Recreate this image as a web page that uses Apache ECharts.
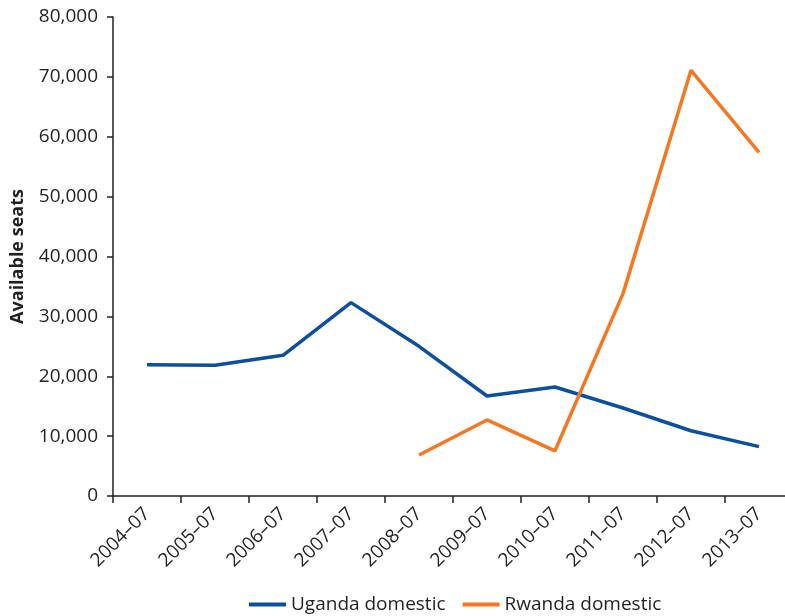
<!DOCTYPE html>
<html>
<head>
<meta charset="utf-8">
<script src="https://cdn.jsdelivr.net/npm/echarts@6/dist/echarts.min.js"></script>
<style>
  html, body { margin: 0; padding: 0; background: #fff; }
  #chart { width: 785px; height: 616px; }
</style>
</head>
<body>
<div id="chart"></div>
<script>
// periods on the x axis
const periods = ['2004\u201307', '2005\u201307', '2006\u201307', '2007\u201307', '2008\u201307',
  '2009\u201307', '2010\u201307', '2011\u201307', '2012\u201307', '2013\u201307']
// available seats per period
const ugandaSeats = [21900, 21850, 23500, 32300, 25000, 16700, 18200, 14700, 10900, 8250]
const rwandaSeats = [null, null, null, null, 6850, 12700, 7550, 33800, 71100, 57400]
const yTicks = { min: 0, max: 80000, interval: 10000 }

const textColor = '#231f20'
const font = 'Open Sans'

let chart = echarts.init(document.getElementById('chart'))
chart.setOption({
  animation: false,
  textStyle: { fontFamily: font },
  grid: {
    left: 113, right: -8, top: 17, bottom: 120,
    containLabel: false,
    outerBoundsMode: 'none'
  },
  legend: {
    left: 244,
    top: 590,
    icon: 'rect',
    itemWidth: 37,
    itemHeight: 4,
    itemGap: 17,
    textStyle: { fontSize: 19, color: textColor, fontFamily: font },
    data: ['Uganda domestic', 'Rwanda domestic']
  },
  xAxis: {
    type: 'category',
    data: periods,
    boundaryGap: true,
    axisLine: { lineStyle: { color: textColor, width: 1.5 } },
    axisTick: { show: true, length: 7, lineStyle: { color: textColor, width: 1.5 } },
    axisLabel: { rotate: 45, fontSize: 19, color: textColor, margin: 15, interval: 0 }
  },
  yAxis: {
    type: 'value',
    min: yTicks.min,
    max: yTicks.max,
    interval: yTicks.interval,
    name: 'Available seats',
    nameLocation: 'middle',
    nameGap: 86,
    nameTextStyle: { fontSize: 18, fontWeight: 'bold', color: textColor },
    splitLine: { show: false },
    axisLine: { show: true, lineStyle: { color: textColor, width: 1.5 } },
    axisTick: { show: true, length: 6, lineStyle: { color: textColor, width: 1.5 } },
    axisLabel: {
      fontSize: 19,
      color: textColor,
      margin: 15,
      formatter: v => v.toLocaleString('en-US')
    }
  },
  series: [
    {
      name: 'Uganda domestic',
      type: 'line',
      data: ugandaSeats,
      symbol: 'none',
      color: '#0b4f9e',
      lineStyle: { width: 3.5 }
    },
    {
      name: 'Rwanda domestic',
      type: 'line',
      data: rwandaSeats,
      symbol: 'none',
      color: '#f47721',
      lineStyle: { width: 3.5 }
    }
  ]
})
</script>
</body>
</html>
